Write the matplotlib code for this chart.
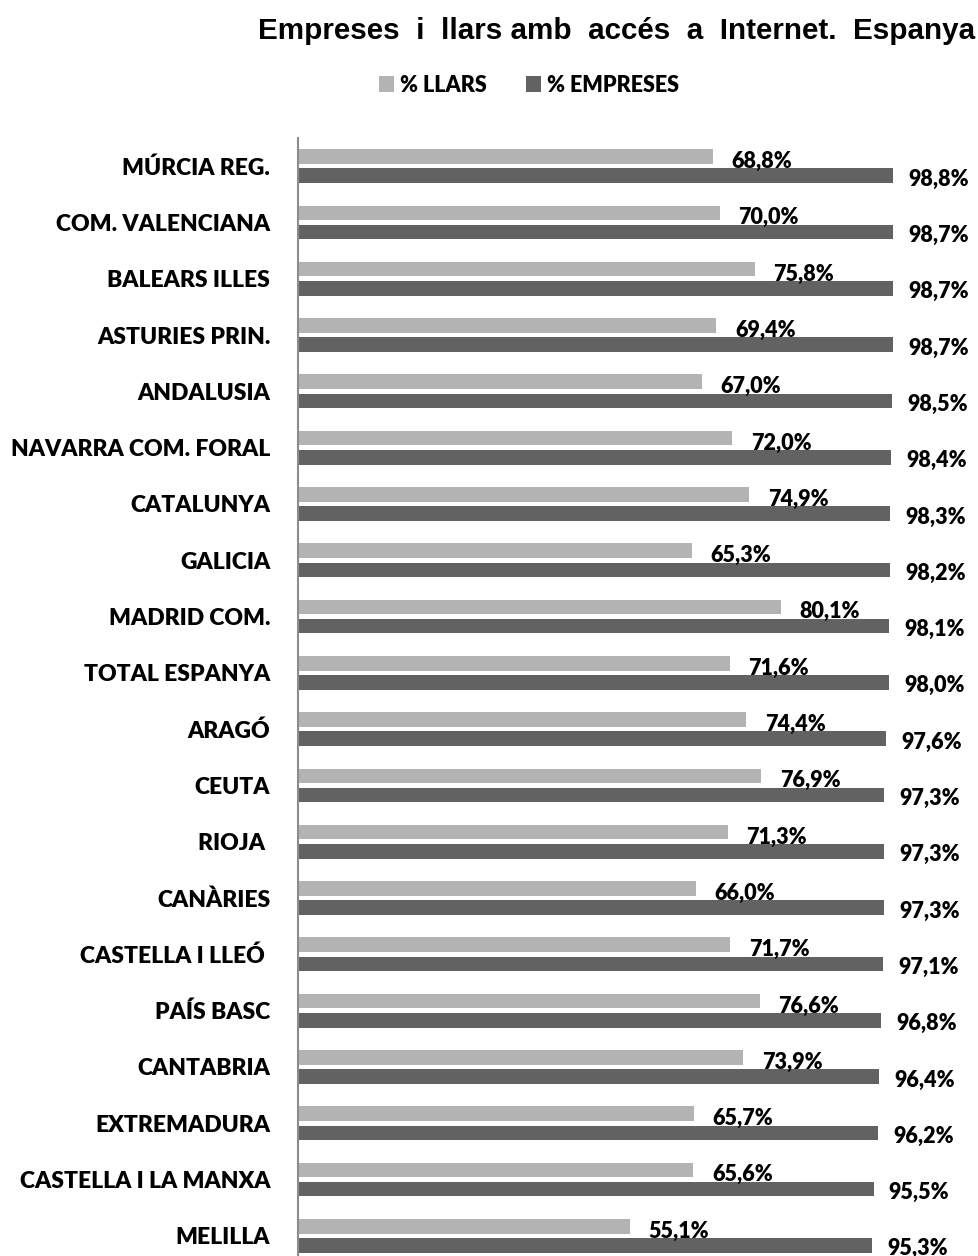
import matplotlib
matplotlib.use("Agg")
import matplotlib.pyplot as plt
import numpy as np

# data (top to bottom)
regions = [
    "MÚRCIA REG.", "COM. VALENCIANA", "BALEARS ILLES", "ASTURIES PRIN.",
    "ANDALUSIA", "NAVARRA COM. FORAL", "CATALUNYA", "GALICIA",
    "MADRID COM.", "TOTAL ESPANYA", "ARAGÓ", "CEUTA", "RIOJA ",
    "CANÀRIES", "CASTELLA I LLEÓ ", "PAÍS BASC", "CANTABRIA",
    "EXTREMADURA", "CASTELLA I LA MANXA", "MELILLA",
]
llars = [68.8, 70.0, 75.8, 69.4, 67.0, 72.0, 74.9, 65.3, 80.1, 71.6,
         74.4, 76.9, 71.3, 66.0, 71.7, 76.6, 73.9, 65.7, 65.6, 55.1]
empreses = [98.8, 98.7, 98.7, 98.7, 98.5, 98.4, 98.3, 98.2, 98.1, 98.0,
            97.6, 97.3, 97.3, 97.3, 97.1, 96.8, 96.4, 96.2, 95.5, 95.3]

LIGHT = "#b3b3b3"
DARK = "#626262"
LABEL_FONT = ["Lato", "DejaVu Sans"]
WEIGHT = "heavy"

W, H = 979, 1256
fig = plt.figure(figsize=(W / 100, H / 100), dpi=100)
# axes spans x 298..979 px, y 138..1264 px (bottom runs past the image edge)
ax = fig.add_axes([298 / W, (H - 1264) / H, (979 - 298) / W, (1264 - 138) / H])

y = np.arange(len(regions))
off, h = 0.17, 0.26
ax.barh(y - off, llars, height=h, color=LIGHT, label="% LLARS")
ax.barh(y + off, empreses, height=h, color=DARK, label="% EMPRESES")

for yi, v in zip(y, llars):
    ax.annotate(f"{v:.1f}%".replace(".", ","), (v, yi - off), xytext=(13.5, -3.5),
                textcoords="offset points", ha="left", va="center",
                fontsize=15.5, fontweight=WEIGHT, family=LABEL_FONT)
for yi, v in zip(y, empreses):
    ax.annotate(f"{v:.1f}%".replace(".", ","), (v, yi + off), xytext=(11, -2.5),
                textcoords="offset points", ha="left", va="center",
                fontsize=15.5, fontweight=WEIGHT, family=LABEL_FONT)

ax.set_xlim(0, 113)
ax.set_ylim(len(regions) - 0.5, -0.5)
ax.set_yticks(y)
ax.set_yticklabels(regions, fontsize=16.5, fontweight=WEIGHT, family=LABEL_FONT)
ax.tick_params(axis="y", length=0, pad=20)
ax.set_xticks([])
for s in ("top", "right", "bottom"):
    ax.spines[s].set_visible(False)
ax.spines["left"].set_color("#8c8c8c")
ax.spines["left"].set_linewidth(1.5)

fig.text(975 / W, 1 - 31 / H, "Empreses  i  llars amb  accés  a  Internet.  Espanya",
         ha="right", va="center", fontsize=21.3, fontweight="bold",
         family="Liberation Sans")

fig.legend(loc="center", bbox_to_anchor=(529 / W, 1 - 85 / H), ncol=2,
           frameon=False, handlelength=0.7, handleheight=0.7, handletextpad=0.3,
           columnspacing=1.8,
           prop={"family": LABEL_FONT, "weight": WEIGHT, "size": 15.5})

fig.savefig("out.png", dpi=100)
